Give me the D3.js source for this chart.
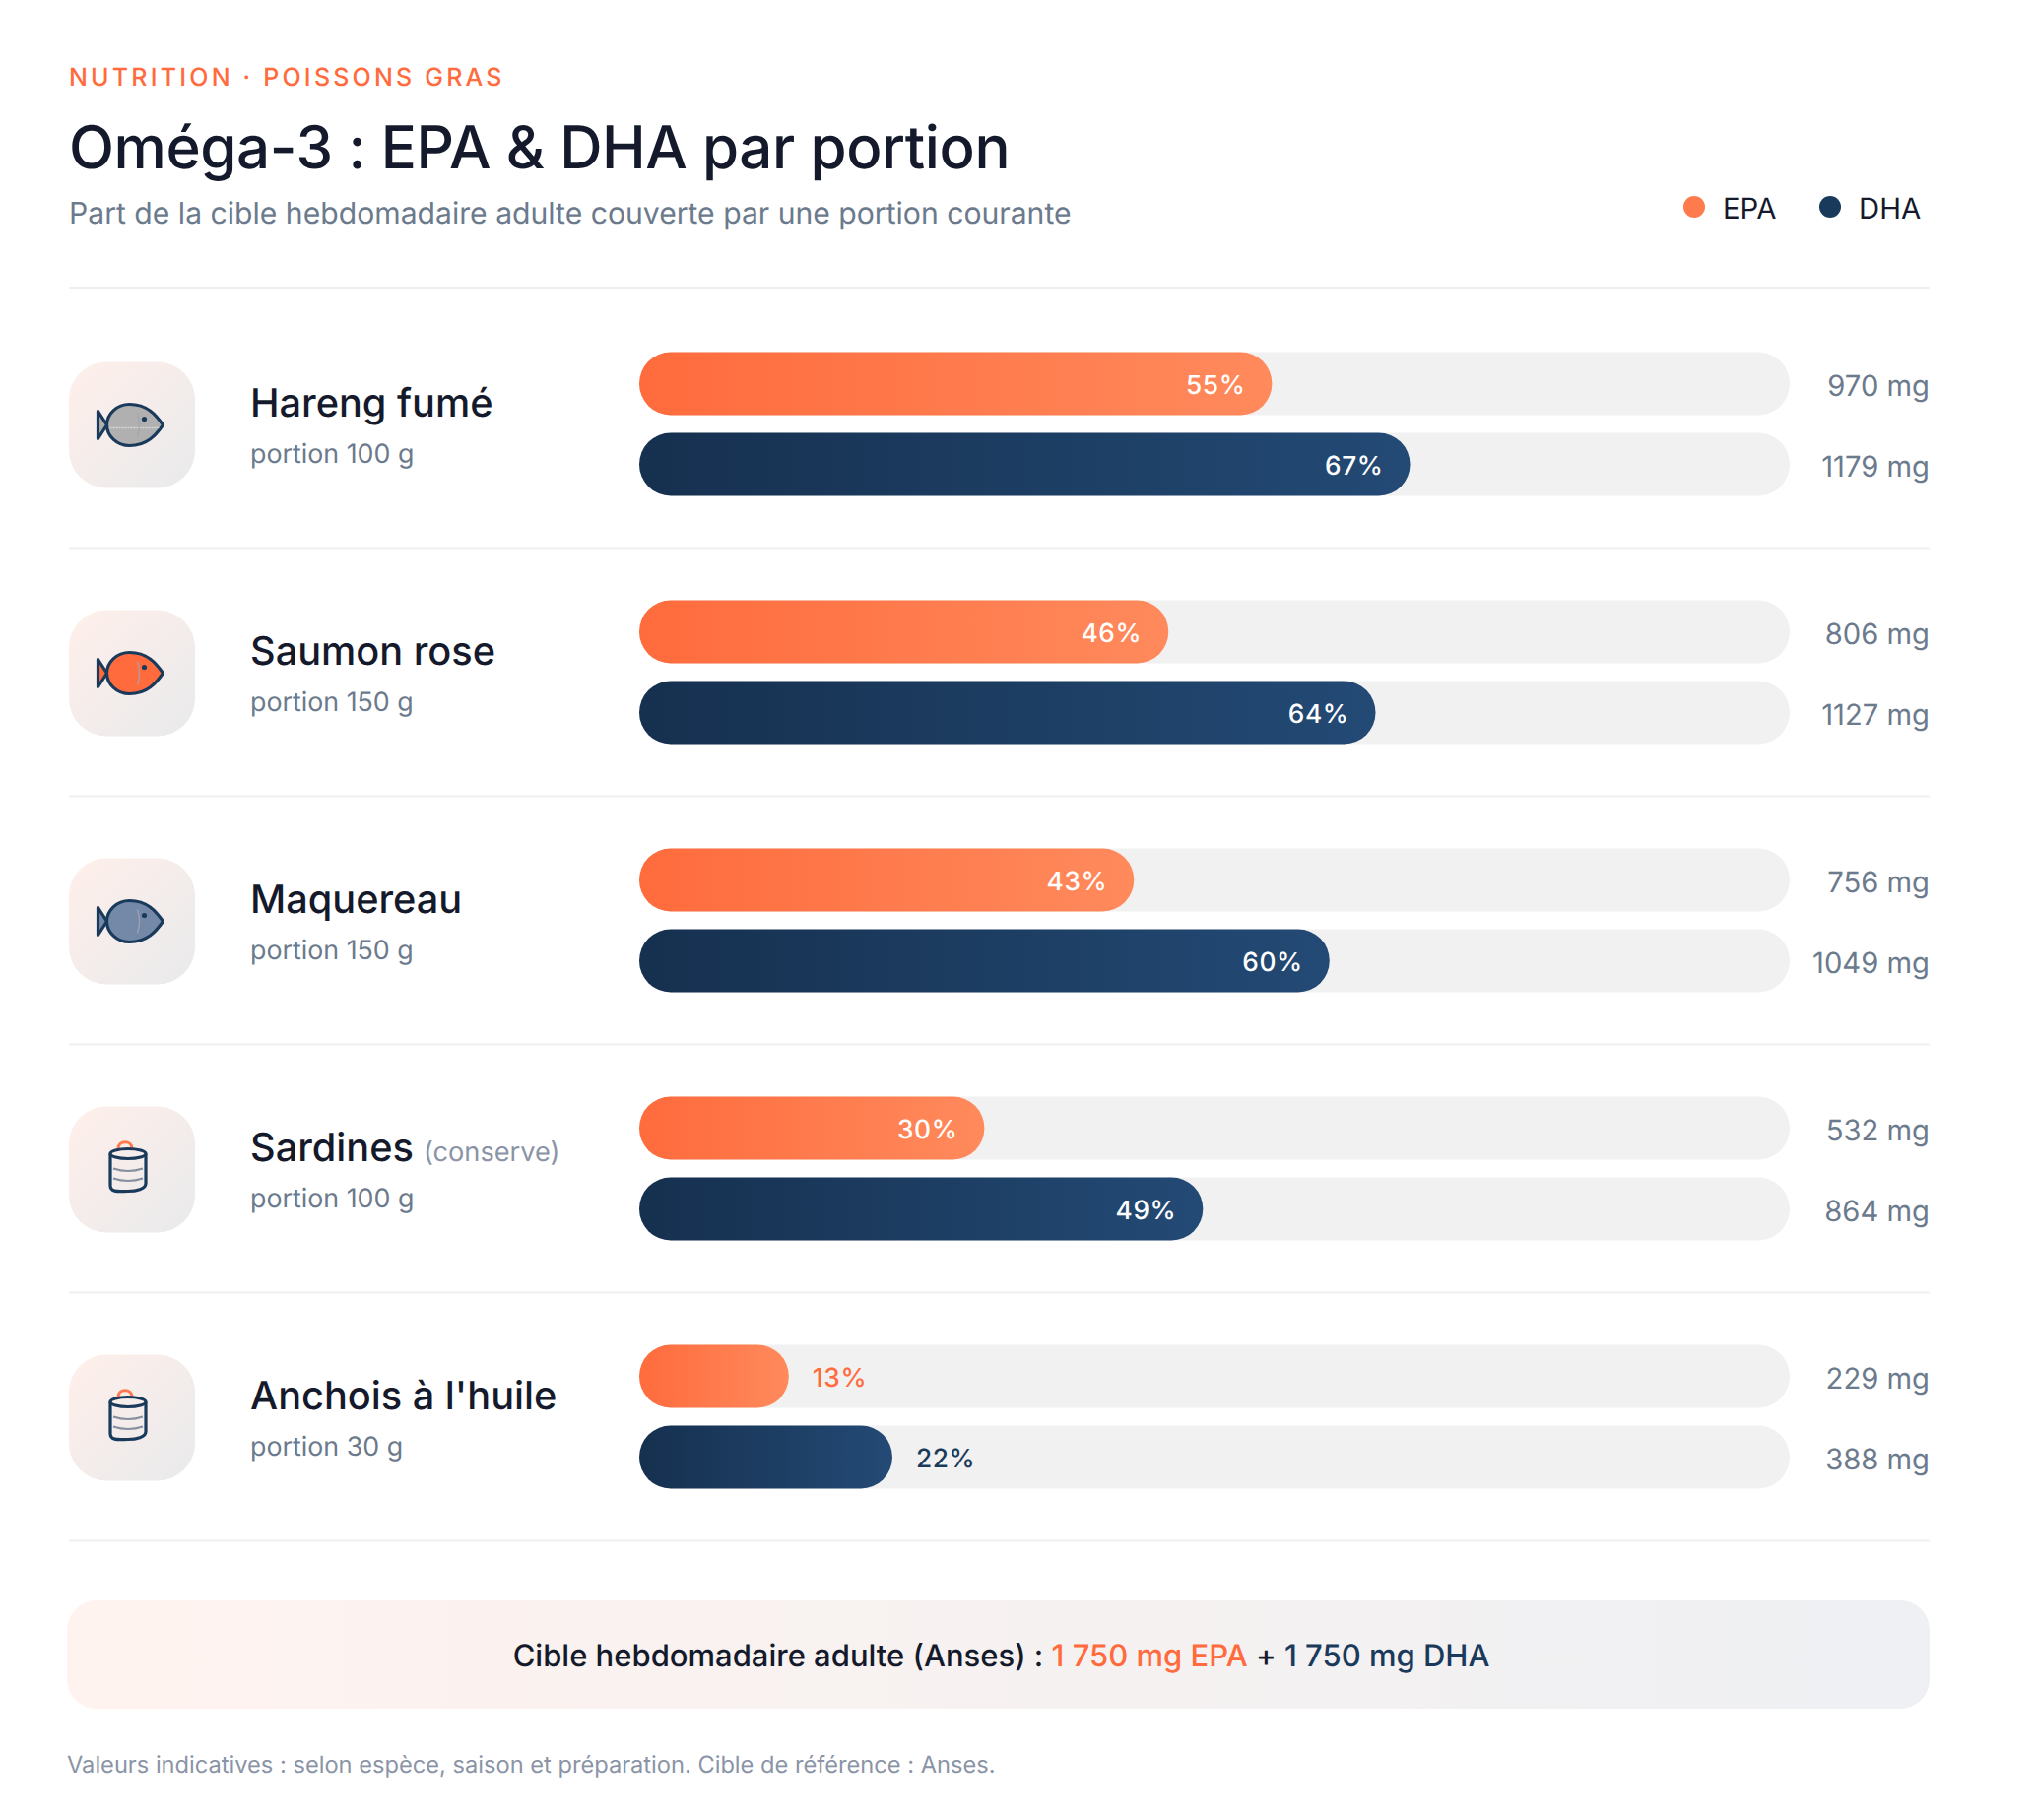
<!DOCTYPE html>
<html>
<head>
<meta charset="utf-8">
<script src="https://cdn.jsdelivr.net/npm/d3@7"></script>
<style>
  html, body { margin: 0; background: #fff; }
  svg { display: block; font-family: Inter, sans-serif; text-rendering: geometricPrecision; font-feature-settings: "calt" 0; }
</style>
</head>
<body>
<script>
const w = 2066;
const h = 1848;

const foods = ["Hareng fumé", "Saumon rose", "Maquereau", "Sardines", "Anchois à l'huile"];
const notes = ["", "", "", "(conserve)", ""];
const portions = ["portion 100 g", "portion 150 g", "portion 150 g", "portion 100 g", "portion 30 g"];
const epaPct = [55, 46, 43, 30, 13];
const dhaPct = [67, 64, 60, 49, 22];
const epaMg = [970, 806, 756, 532, 229];
const dhaMg = [1179, 1127, 1049, 864, 388];
const iconKinds = ["fish", "fish", "fish", "can", "can"];
const fishFills = ["#b0b0b0", "#ff6b3d", "#7488a8", null, null];

const orange = "#ff6b3d";
const navy = "#1a3a5c";
const ink = "#141a2b";
const grey = "#6b7a8c";

const svg = d3.select("body")
  .append("svg")
  .attr("width", w)
  .attr("height", h)
  .attr("viewBox", `0 0 ${w} ${h}`);

const defs = svg.append("defs");

function gradient(id, from, to, x2, y2) {
  const g = defs.append("linearGradient")
    .attr("id", id)
    .attr("x1", 0).attr("y1", 0)
    .attr("x2", x2).attr("y2", y2);
  g.append("stop").attr("offset", 0).attr("stop-color", from);
  g.append("stop").attr("offset", 1).attr("stop-color", to);
}
gradient("epaGrad", "#ff6b3d", "#ff8a5c", 1, 0);
gradient("dhaGrad", "#16304f", "#234a75", 1, 0);
gradient("iconGrad", "#ffefea", "#e9eaec", 1, 1);
gradient("boxGrad", "#fff3ef", "#eef0f3", 1, 0);

const x = d3.scaleLinear().domain([0, 100]).range([0, 1168]);
const y = d3.scaleBand().domain(foods).range([304.5, 1564.5]);
const trackH = 64;
const trackGap = 18;
const trackX = 649;

// Header
svg.append("text")
  .attr("x", 70).attr("y", 87)
  .attr("fill", orange)
  .style("font-size", "25px")
  .style("font-weight", 500)
  .style("letter-spacing", "3.2px")
  .text("NUTRITION · POISSONS GRAS");

svg.append("text")
  .attr("x", 70).attr("y", 171)
  .attr("fill", ink)
  .style("font-size", "60px")
  .style("font-weight", 500)
  .style("letter-spacing", "-0.4px")
  .text("Oméga-3 : EPA & DHA par portion");

svg.append("text")
  .attr("x", 70).attr("y", 227)
  .attr("fill", grey)
  .style("font-size", "30.15px")
  .text("Part de la cible hebdomadaire adulte couverte par une portion courante");

// Legend
const legend = [["EPA", 1720, "#ff7a4d"], ["DHA", 1858, navy]];
legend.forEach(([name, cx, color]) => {
  svg.append("circle").attr("cx", cx).attr("cy", 210).attr("r", 11).attr("fill", color);
  svg.append("text")
    .attr("x", cx + 29).attr("y", 222)
    .attr("fill", ink)
    .style("font-size", "29.3px")
    .text(name);
});

// Separators
svg.append("line")
  .attr("x1", 70).attr("x2", 1959)
  .attr("y1", 292).attr("y2", 292)
  .attr("stroke", "#eeeff1").attr("stroke-width", 2);

svg.selectAll(".sep")
  .data(foods)
  .enter()
  .append("line")
  .attr("class", "sep")
  .attr("x1", 70).attr("x2", 1959)
  .attr("y1", d => y(d) + y.bandwidth())
  .attr("y2", d => y(d) + y.bandwidth())
  .attr("stroke", "#eeeff1").attr("stroke-width", 2);

// Rows
const rows = svg.selectAll(".row")
  .data(foods)
  .enter()
  .append("g")
  .attr("class", "row")
  .attr("transform", d => `translate(0, ${y(d)})`);

// Icon tile, drawn around its centre
const icons = rows.append("g").attr("transform", "translate(134, 127)");

icons.append("rect")
  .attr("x", -64).attr("y", -64)
  .attr("width", 128).attr("height", 128)
  .attr("rx", 38)
  .attr("fill", "url(#iconGrad)");

icons.each(function (d, i) {
  const g = d3.select(this);
  if (iconKinds[i] === "fish") {
    const fish = g.append("g").attr("transform", "translate(-0.5, 0)");
    fish.append("path")
      .attr("d", "M-25 0 L-34 -14 L-34 14 Z")
      .attr("fill", fishFills[i])
      .attr("stroke", navy).attr("stroke-width", 3.2).attr("stroke-linejoin", "round");
    fish.append("path")
      .attr("d", "M32 0 C25 -10 16 -21 -2 -21 C-15 -21 -25 -11 -25 0 C-25 11 -15 21 -2 21 C16 21 25 10 32 0 Z")
      .attr("fill", fishFills[i])
      .attr("stroke", navy).attr("stroke-width", 3.2).attr("stroke-linejoin", "round");
    fish.append("path")
      .attr("d", "M-22 3 L29 3")
      .attr("fill", "none")
      .attr("stroke", "#fff").attr("stroke-width", 1.5).attr("stroke-dasharray", "2 1")
      .attr("opacity", i === 0 ? 0.5 : 0);
    fish.append("path")
      .attr("d", "M6 -12 Q10 0 6 12")
      .attr("fill", "none")
      .attr("stroke", "#a4a4b2").attr("stroke-width", 1.4)
      .attr("opacity", 0.85);
    fish.append("circle").attr("cx", 13).attr("cy", -6).attr("r", 2.6).attr("fill", navy);
  } else {
    const can = g.append("g").attr("transform", "translate(-4, 0)");
    can.append("path")
      .attr("d", "M-10 -21 C-10 -30 4 -30 4 -21")
      .attr("fill", "none")
      .attr("stroke", "#ff7a4d").attr("stroke-width", 3.2).attr("stroke-linecap", "round");
    can.append("path")
      .attr("d", "M-18 -16 L-18 16 C-18 24 -8 22 0 22 C8 22 18 20 18 14 L18 -16")
      .attr("fill", "none")
      .attr("stroke", navy).attr("stroke-width", 3.2);
    can.append("ellipse")
      .attr("cx", 0).attr("cy", -16)
      .attr("rx", 18).attr("ry", 5)
      .attr("fill", "none")
      .attr("stroke", navy).attr("stroke-width", 3.2);
    can.selectAll(".stripe")
      .data([-1, 9])
      .enter()
      .append("path")
      .attr("class", "stripe")
      .attr("d", s => `M-15 ${s} Q0 ${s + 5} 15 ${s}`)
      .attr("fill", "none")
      .attr("stroke", "#858fa0").attr("stroke-width", 2);
  }
});

// Names
const names = rows.append("text")
  .attr("x", 254).attr("y", 118.7)
  .attr("fill", ink)
  .style("font-size", "39.7px")
  .style("font-weight", 500)
  .text(d => d);

names.append("tspan")
  .attr("dx", 10)
  .attr("fill", "#8a94a6")
  .style("font-size", "27.2px")
  .style("font-weight", 400)
  .text((d, i) => notes[i]);

rows.append("text")
  .attr("x", 254).attr("y", 165)
  .attr("fill", grey)
  .style("font-size", "26.8px")
  .text((d, i) => portions[i]);

// Bars
function drawBars(pct, mg, grad, labelColor, top) {
  const bars = rows.append("g").attr("transform", `translate(${trackX}, ${top})`);

  bars.append("rect")
    .attr("width", x(100)).attr("height", trackH)
    .attr("rx", trackH / 2)
    .attr("fill", "#f1f1f1");

  bars.append("rect")
    .attr("width", (d, i) => x(pct[i])).attr("height", trackH)
    .attr("rx", trackH / 2)
    .attr("fill", `url(#${grad})`);

  bars.append("text")
    .attr("x", (d, i) => pct[i] < 25 ? x(pct[i]) + 24 : x(pct[i]) - 27)
    .attr("y", trackH / 2 + 10)
    .attr("text-anchor", (d, i) => pct[i] < 25 ? "start" : "end")
    .attr("fill", (d, i) => pct[i] < 25 ? labelColor : "#fff")
    .style("font-size", "26.3px")
    .style("font-weight", 500)
    .style("letter-spacing", "0.6px")
    .text((d, i) => pct[i] + "%");

  rows.append("text")
    .attr("x", 1959)
    .attr("y", top + trackH / 2 + 12)
    .attr("text-anchor", "end")
    .attr("fill", grey)
    .style("font-size", "29.2px")
    .text((d, i) => mg[i] + " mg");
}
drawBars(epaPct, epaMg, "epaGrad", orange, 53);
drawBars(dhaPct, dhaMg, "dhaGrad", navy, 53 + trackH + trackGap);

// Target box
svg.append("rect")
  .attr("x", 68).attr("y", 1625)
  .attr("width", 1891).attr("height", 110)
  .attr("rx", 30)
  .attr("fill", "url(#boxGrad)");

const target = svg.append("text")
  .attr("x", 1016.5).attr("y", 1692)
  .attr("text-anchor", "middle")
  .attr("fill", ink)
  .style("font-size", "31px")
  .style("font-weight", 500);
target.append("tspan").text("Cible hebdomadaire adulte (Anses) : ");
target.append("tspan").attr("fill", orange).text("1\u00a0750 mg EPA");
target.append("tspan").text(" + ");
target.append("tspan").attr("fill", navy).text("1\u00a0750 mg DHA");

// Footnote
svg.append("text")
  .attr("x", 68).attr("y", 1800)
  .attr("fill", "#8a94a6")
  .style("font-size", "23.65px")
  .text("Valeurs indicatives : selon espèce, saison et préparation. Cible de référence : Anses.");
</script>
</body>
</html>
